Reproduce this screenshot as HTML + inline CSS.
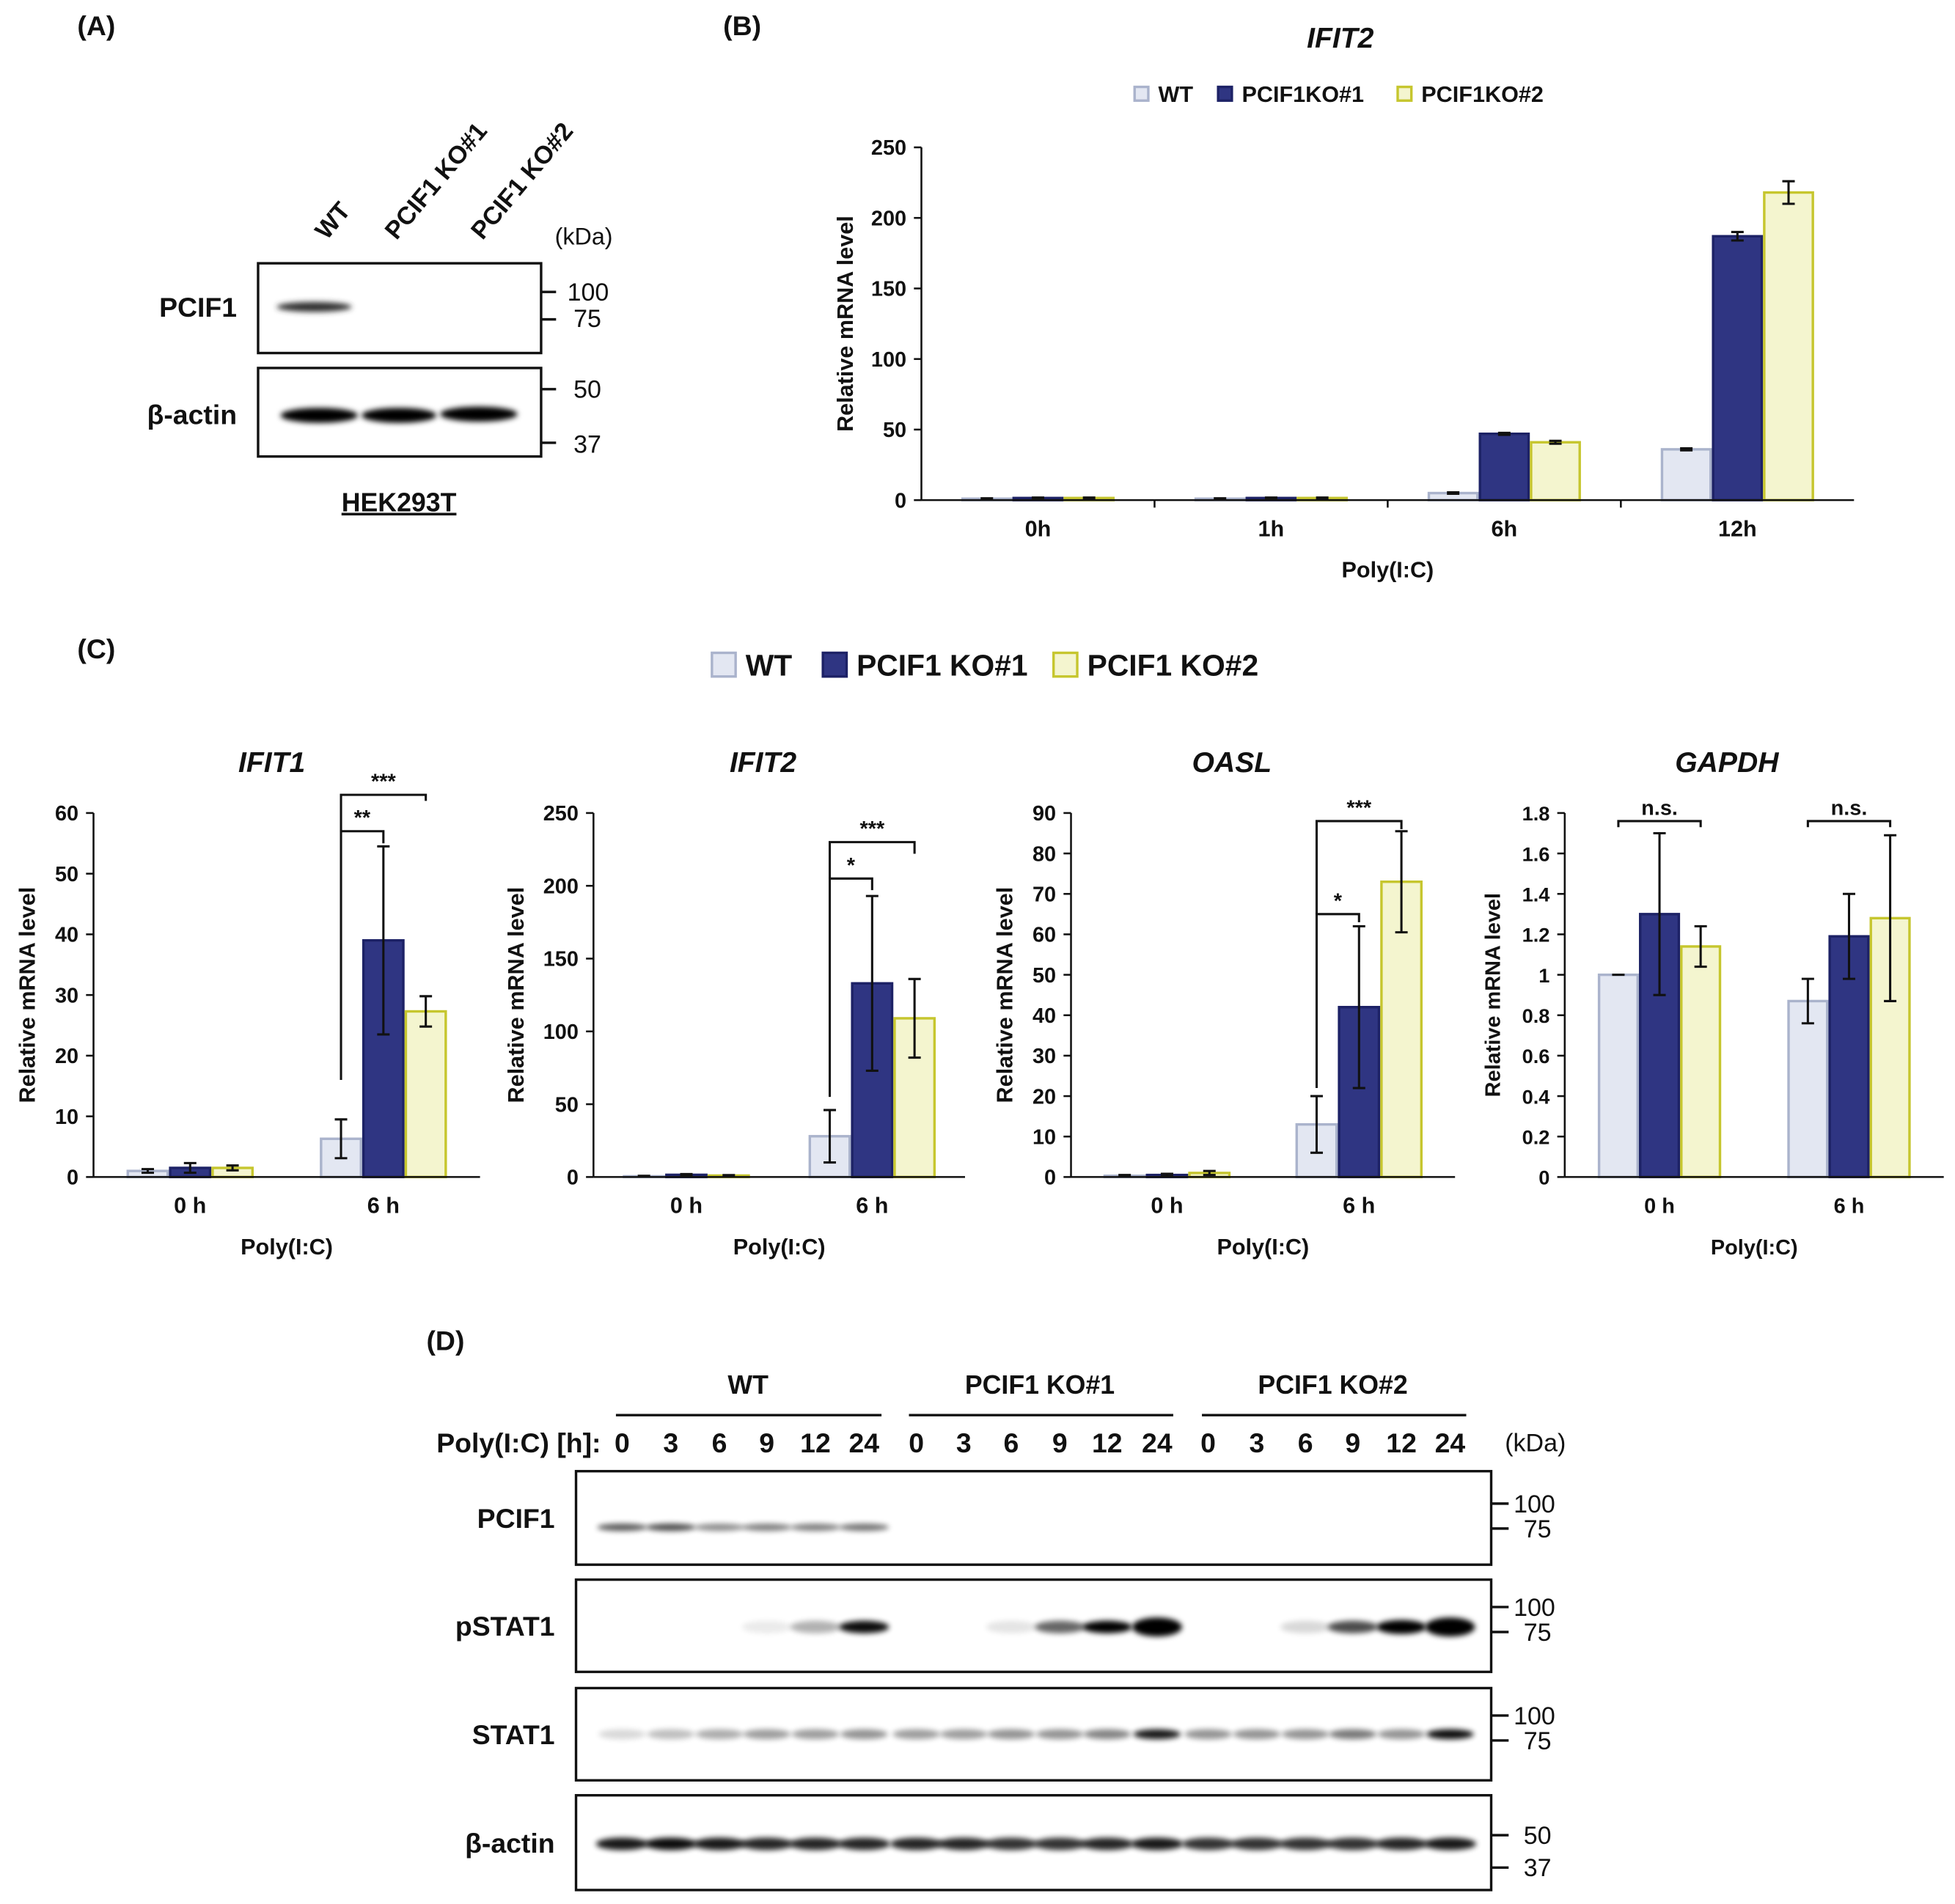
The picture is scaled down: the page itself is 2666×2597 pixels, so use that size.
<!DOCTYPE html>
<html><head><meta charset="utf-8"><style>
html,body{margin:0;padding:0;background:#fff;}
svg{display:block;font-family:"Liberation Sans",Arial,sans-serif;}
text{font-weight:bold;fill:#111;}
</style></head><body>
<svg id="fig" width="2666" height="2597" viewBox="0 0 1568 1527" xmlns="http://www.w3.org/2000/svg">
<defs>
<filter id="blur" x="-50%" y="-200%" width="200%" height="500%"><feGaussianBlur stdDeviation="2.2"/></filter>
</defs>
<g>
<text x="62" y="28" font-size="22">(A)</text>
<text transform="translate(262,193) rotate(-50)" font-size="20">WT</text>
<text transform="translate(318,193) rotate(-50)" font-size="20">PCIF1 KO#1</text>
<text transform="translate(387,193) rotate(-50)" font-size="20">PCIF1 KO#2</text>
<text x="445" y="196" font-size="19" style="font-weight:normal">(kDa)</text>
<rect x="207" y="211" width="227" height="72" fill="#fff" stroke="#111" stroke-width="2"/>
<rect x="207" y="295" width="227" height="71" fill="#fff" stroke="#111" stroke-width="2"/>
<text x="190" y="254" font-size="22" text-anchor="end">PCIF1</text>
<text x="190" y="340" font-size="22" text-anchor="end">β-actin</text>
<ellipse cx="252" cy="246" rx="30" ry="4" fill="#333" filter="url(#blur)"/>
<ellipse cx="256" cy="333" rx="31" ry="6" fill="#000" filter="url(#blur)"/>
<ellipse cx="320" cy="333" rx="30" ry="6" fill="#000" filter="url(#blur)"/>
<ellipse cx="384" cy="332" rx="31" ry="6" fill="#000" filter="url(#blur)"/>
<g stroke="#111" stroke-width="2"><line x1="434" y1="234" x2="446" y2="234"/><line x1="434" y1="256" x2="446" y2="256"/><line x1="434" y1="312" x2="446" y2="312"/><line x1="434" y1="355" x2="446" y2="355"/></g>
<g font-size="20"><text x="455" y="241" style="font-weight:normal">100</text><text x="460" y="262" style="font-weight:normal">75</text><text x="460" y="319" style="font-weight:normal">50</text><text x="460" y="363" style="font-weight:normal">37</text></g>
<text x="320" y="410" font-size="21" text-anchor="middle" text-decoration="underline">HEK293T</text>
</g>
<text x="580" y="28" font-size="22">(B)</text>
<text x="62" y="528" font-size="22">(C)</text>
<text x="342" y="1083" font-size="22">(D)</text>
<g id="charts"></g>
<g id="blotD"></g>
</svg>
<script>
const bCats = ['0h','1h','6h','12h'];
const bTicks = ['0','50','100','150','200','250'];
const bWT = [1, 1, 5, 36];
const bKO1 = [1.5, 1.5, 47, 187];
const bKO2 = [1.5, 1.5, 41, 218];
const bWTerr = [0.3, 0.3, 0.5, 0.7];
const bKO1err = [0.3, 0.3, 0.7, 3];
const bKO2err = [0.3, 0.3, 1, 8];

const cCats = ['0 h','6 h'];
const ifit1Ticks = ['0','10','20','30','40','50','60'];
const ifit1WT = [1, 6.3], ifit1KO1 = [1.5, 39], ifit1KO2 = [1.5, 27.3];
const ifit1WTerr = [0.3, 3.2], ifit1KO1err = [0.8, 15.5], ifit1KO2err = [0.4, 2.5];
const ifit2Ticks = ['0','50','100','150','200','250'];
const ifit2WT = [0.5, 28], ifit2KO1 = [1.5, 133], ifit2KO2 = [1, 109];
const ifit2WTerr = [0.3, 18], ifit2KO1err = [0.5, 60], ifit2KO2err = [0.3, 27];
const oaslTicks = ['0','10','20','30','40','50','60','70','80','90'];
const oaslWT = [0.3, 13], oaslKO1 = [0.5, 42], oaslKO2 = [1, 73];
const oaslWTerr = [0.2, 7], oaslKO1err = [0.3, 20], oaslKO2err = [0.5, 12.5];
const gapdhTicks = ['0','0.2','0.4','0.6','0.8','1','1.2','1.4','1.6','1.8'];
const gapdhWT = [1, 0.87], gapdhKO1 = [1.3, 1.19], gapdhKO2 = [1.14, 1.28];
const gapdhWTerr = [0, 0.11], gapdhKO1err = [0.4, 0.21], gapdhKO2err = [0.1, 0.41];

const COLORS = [{f:'#e3e7f2',s:'#aab3cc'},{f:'#2f3582',s:'#1d2266'},{f:'#f4f5cf',s:'#c6c62e'}];
const NS = 'http://www.w3.org/2000/svg';
function mk(tag, parent, attrs, txt){
  const e = document.createElementNS(NS, tag);
  for (const k in attrs) e.setAttribute(k, attrs[k]);
  if (txt !== undefined) e.textContent = txt;
  parent.appendChild(e); return e;
}
const root = document.getElementById('charts');

function chart(o){
  const g = mk('g', root, {});
  
  
  const max = parseFloat(o.ticks[o.ticks.length-1]);
  const y = v => o.yBase - v/max*(o.yBase-o.yTop);
  const n = o.cats.length, step = (o.x1-o.x0)/n;
  const cx = i => o.x0 + (i+0.5)*step;
  o.ticks.forEach(t => {
    const yy = y(parseFloat(t));
    mk('line', g, {x1:o.x0-6, x2:o.x0, y1:yy, y2:yy, stroke:'#111', 'stroke-width':1.5});
    const tl = mk('text', g, {x:o.x0-12, y:yy+6, 'font-size':o.fs, 'text-anchor':'end'}, t);
    
    
  });
  o.series.forEach((s, j) => {
    s.vals.forEach((v, i) => {
      const bx = cx(i) + (j-1)*o.bw - o.bw/2 + 1;
      const r = mk('rect', g, {x:bx, y:y(v), width:o.bw-2, height:o.yBase-y(v), fill:COLORS[j].f, stroke:COLORS[j].s, 'stroke-width':2});
      
      
      const e = s.errs[i], mx = bx + (o.bw-2)/2;
      if (e > 0) {
        const eb = mk('path', g, {d:`M${mx},${y(v+e)}V${y(v-e)}M${mx-5},${y(v+e)}H${mx+5}M${mx-5},${y(v-e)}H${mx+5}`, stroke:'#111', 'stroke-width':1.8, fill:'none'});
        
        
      } else {
        mk('line', g, {x1:mx-5, x2:mx+5, y1:y(v), y2:y(v), stroke:'#111', 'stroke-width':1.8});
      }
    });
  });
  mk('line', g, {x1:o.x0, x2:o.x0, y1:o.yTop, y2:o.yBase, stroke:'#111', 'stroke-width':1.5});
  mk('line', g, {x1:o.x0, x2:o.x1, y1:o.yBase, y2:o.yBase, stroke:'#111', 'stroke-width':1.5});
  if (o.sepTicks) for (let i=1;i<n;i++) mk('line', g, {x1:o.x0+i*step, x2:o.x0+i*step, y1:o.yBase, y2:o.yBase+6, stroke:'#111', 'stroke-width':1.5});
  o.cats.forEach((c,i) => {
    const t = mk('text', g, {x:cx(i), y:o.yBase+29, 'font-size':o.fs+1, 'text-anchor':'middle'}, c);
    
    
  });
  const xt = mk('text', g, {x:(o.x0+o.x1)/2 + (o.xtOff||0), y:o.yBase+62, 'font-size':o.fs+1, 'text-anchor':'middle'}, 'Poly(I:C)');
  
  
  const yt = mk('text', g, {transform:`translate(${o.ylx},${(o.yBase+o.yTop)/2}) rotate(-90)`, 'font-size':o.fs+1, 'text-anchor':'middle'}, 'Relative mRNA level');
  
  
  const ti = mk('text', g, {x:o.titleX, y:o.titleY, 'font-size':23, 'text-anchor':'middle', 'font-style':'italic'}, o.title);
  
  
  (o.brackets||[]).forEach(b => {
    const xa = cx(b.cat) + (b.a-1)*o.bw, xb = cx(b.cat) + (b.b-1)*o.bw, yy = y(b.lv);
    const p = mk('path', g, {d:`M${xa},${y(b.la)}V${yy}H${xb}V${y(b.lb)}`, stroke:'#111', 'stroke-width':1.8, fill:'none'});
    
    
    const st = mk('text', g, {x:(xa+xb)/2, y:yy-5, 'font-size':17, 'text-anchor':'middle'}, b.t);
    
    
  });
}
function ser(w,k1,k2,we,k1e,k2e){return [{key:'wt',vals:w,errs:we},{key:'ko1',vals:k1,errs:k1e},{key:'ko2',vals:k2,errs:k2e}];}

chart({name:'chart-b-ifit2', x0:739, x1:1487, yBase:401, yTop:118, ticks:bTicks, cats:bCats, bw:41, fs:17, ylx:684, sepTicks:true,
  title:'IFIT2', titleX:1075, titleY:38, series:ser(bWT,bKO1,bKO2,bWTerr,bKO1err,bKO2err)});
chart({name:'chart-c-ifit1', x0:75, x1:385, yBase:944, yTop:652, ticks:ifit1Ticks, cats:cCats, bw:34, fs:17, ylx:28,
  title:'IFIT1', titleX:218, titleY:619, series:ser(ifit1WT,ifit1KO1,ifit1KO2,ifit1WTerr,ifit1KO1err,ifit1KO2err),
  brackets:[{cat:1,a:0,b:1,lv:57,la:16,lb:55,t:'**'},{cat:1,a:0,b:2,lv:63,la:57,lb:62,t:'***'}]});
chart({name:'chart-c-ifit2', x0:476, x1:774, yBase:944, yTop:652, ticks:ifit2Ticks, cats:cCats, bw:34, fs:17, ylx:420,
  title:'IFIT2', titleX:612, titleY:619, series:ser(ifit2WT,ifit2KO1,ifit2KO2,ifit2WTerr,ifit2KO1err,ifit2KO2err),
  brackets:[{cat:1,a:0,b:1,lv:205,la:55,lb:197,t:'*'},{cat:1,a:0,b:2,lv:230,la:205,lb:222,t:'***'}]});
chart({name:'chart-c-oasl', x0:859, x1:1167, yBase:944, yTop:652, ticks:oaslTicks, cats:cCats, bw:34, fs:17, ylx:812,
  title:'OASL', titleX:988, titleY:619, series:ser(oaslWT,oaslKO1,oaslKO2,oaslWTerr,oaslKO1err,oaslKO2err),
  brackets:[{cat:1,a:0,b:1,lv:65,la:22,lb:63,t:'*'},{cat:1,a:0,b:2,lv:88,la:65,lb:86,t:'***'}]});
chart({name:'chart-c-gapdh', x0:1255, x1:1559, yBase:944, yTop:652, ticks:gapdhTicks, cats:cCats, bw:33, fs:16, ylx:1203,
  title:'GAPDH', titleX:1385, titleY:619, series:ser(gapdhWT,gapdhKO1,gapdhKO2,gapdhWTerr,gapdhKO1err,gapdhKO2err),
  brackets:[{cat:0,a:0,b:2,lv:1.76,la:1.73,lb:1.73,t:'n.s.'},{cat:1,a:0,b:2,lv:1.76,la:1.73,lb:1.73,t:'n.s.'}]});

function legend(items, y, size, fs, name){
  const g = mk('g', root, {});
  
  
  items.forEach((it,j) => {
    const r = mk('rect', g, {x:it.x, y:y-size/2, width:size, height:size, fill:COLORS[j].f, stroke:COLORS[j].s, 'stroke-width':2});
    
    
    const t = mk('text', g, {x:it.x+size+8, y:y+fs*0.36, 'font-size':fs}, it.t);
    
    
  });
}
legend([{x:910,t:'WT'},{x:977,t:'PCIF1KO#1'},{x:1121,t:'PCIF1KO#2'}], 75, 11, 18, 'legend-b');
legend([{x:571,t:'WT'},{x:660,t:'PCIF1 KO#1'},{x:845,t:'PCIF1 KO#2'}], 533, 19, 24, 'legend-c');

const lanesWT = [499,538,577,615,654,693], lanesKO1=[735,773,811,850,888,928], lanesKO2=[969,1008,1047,1085,1124,1163];
const laneLabels = ['0','3','6','9','12','24'];
const pcif1Int = [0.65,0.7,0.45,0.5,0.5,0.55, 0,0,0,0,0,0, 0,0,0,0,0,0];
const pstat1Int = [0,0,0,0.08,0.3,0.95, 0,0,0.1,0.6,1,1.4, 0,0,0.15,0.7,1.1,1.4];
const stat1Int = [0.15,0.25,0.32,0.38,0.38,0.42, 0.38,0.38,0.42,0.42,0.48,0.9, 0.42,0.42,0.42,0.52,0.42,0.95];
const actinInt = [0.9,0.95,0.9,0.85,0.85,0.85, 0.85,0.85,0.8,0.8,0.85,0.9, 0.8,0.8,0.8,0.8,0.85,0.9];
const D = document.getElementById('blotD');
const allLanes = lanesWT.concat(lanesKO1, lanesKO2);
[['WT',600,494,707],['PCIF1 KO#1',834,729,941],['PCIF1 KO#2',1069,964,1176]].forEach(a=>{
  const t = mk('text', D, {x:a[1], y:1118, 'font-size':21, 'text-anchor':'middle'}, a[0]);
  
  
  mk('line', D, {x1:a[2], x2:a[3], y1:1135, y2:1135, stroke:'#111', 'stroke-width':2});
});
const pl = mk('text', D, {x:482, y:1165, 'font-size':22, 'text-anchor':'end'}, 'Poly(I:C) [h]:');


allLanes.forEach((x,i)=>{
  const t = mk('text', D, {x:x, y:1165, 'font-size':22, 'text-anchor':'middle'}, laneLabels[i%6]);
  
  
});
const kd = mk('text', D, {x:1207, y:1164, 'font-size':20, style:'font-weight:normal'}, '(kDa)');


function blot(name, y0, y1, ints, bandY, rx, ry, markers){
  const r = mk('rect', D, {x:462, y:y0, width:734, height:y1-y0, fill:'#fff', stroke:'#111', 'stroke-width':2});
  
  
  allLanes.forEach((x,i)=>{
    const v = ints[i]; if (v<=0) return;
    const op = Math.min(1, v);
    const h = ry*(v>1? 1+ (v-1)*1.3 : 1);
    const b = mk('ellipse', D, {cx:x, cy:bandY, rx:rx, ry:h, fill:'#000', opacity:op, filter:'url(#blur)'});
    
    
  });
  const lbl = mk('text', D, {x:445, y:(y0+y1)/2+8, 'font-size':22, 'text-anchor':'end'}, name === 'actin' ? 'β-actin' : name);
  
  
  markers.forEach(m=>{
    mk('line', D, {x1:1196, x2:1210, y1:m[1], y2:m[1], stroke:'#111', 'stroke-width':2});
    mk('text', D, {x:m[0]==='100'?1214:1222, y:m[1]+7, 'font-size':20, style:'font-weight:normal'}, m[0]);
  });
}
blot('PCIF1', 1180, 1255, pcif1Int, 1225, 20, 3, [['100',1206],['75',1226]]);
blot('pSTAT1', 1267, 1341, pstat1Int, 1305, 20, 5, [['100',1289],['75',1309]]);
blot('STAT1', 1354, 1428, stat1Int, 1391, 19, 4, [['100',1376],['75',1396]]);
blot('actin', 1440, 1516, actinInt, 1479, 21, 5, [['50',1472],['37',1498]]);
</script>
</body></html>
